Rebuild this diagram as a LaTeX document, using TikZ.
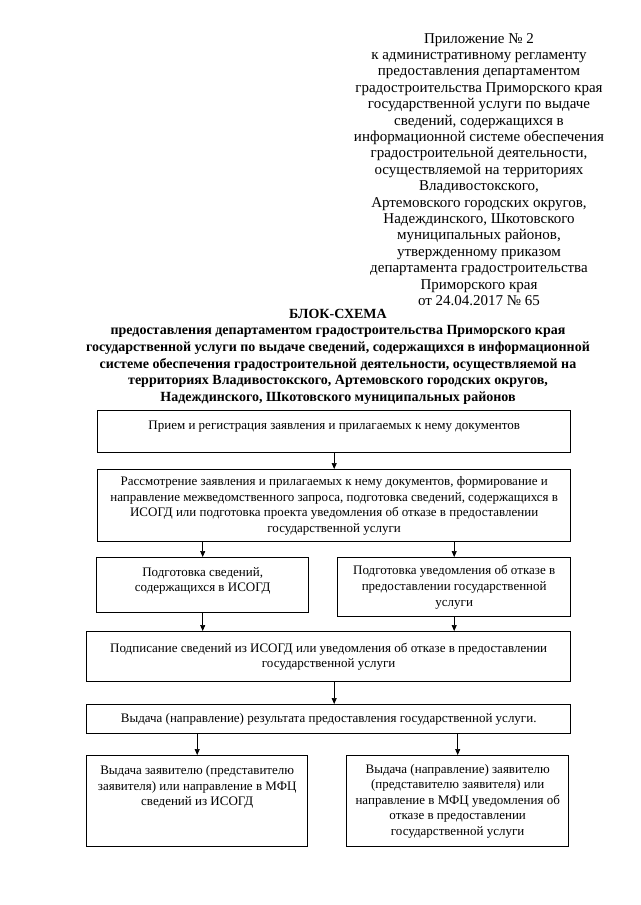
\documentclass[tikz,border=0pt]{standalone}
\usepackage{fontspec}
\setmainfont{Liberation Serif}
\usetikzlibrary{arrows.meta,positioning}
\newcommand{\headfont}{\fontsize{15}{16.4}\selectfont}
\newcommand{\titlefont}{\fontsize{14}{16.7}\selectfont\bfseries}
\newcommand{\blockfont}{\fontsize{13}{15.6}\selectfont}
\begin{document}
\begin{tikzpicture}[x=1pt,y=-1pt,
  txt/.style={align=center,anchor=north,inner sep=0pt},
  box/.style={draw,line width=1.4pt,align=center,font=\blockfont,anchor=north west,inner sep=4pt},
  topbox/.style 2 args={text height=#1,text depth=#2},
  ar/.style={-{Triangle[length=6pt,width=5pt]},line width=0.7pt}]
  \useasboundingbox (0,0) rectangle (640,905);
  \node[txt,font=\headfont] (appx) at (479,33) {Приложение № 2\\
    к административному регламенту\\
    предоставления департаментом\\
    градостроительства Приморского края\\
    государственной услуги по выдаче\\
    сведений, содержащихся в\\
    информационной системе обеспечения\\
    градостроительной деятельности,\\
    осуществляемой на территориях\\
    Владивостокского,\\
    Артемовского городских округов,\\
    Надеждинского, Шкотовского\\
    муниципальных районов,\\
    утвержденному приказом\\
    департамента градостроительства\\
    Приморского края\\
    от 24.04.2017 № 65};
  \node[txt,font=\titlefont] (title) at (338,309) {БЛОК-СХЕМА};
  \node[txt,font=\titlefont] (purpose) at (338,325.5) {предоставления департаментом градостроительства Приморского края\\
    государственной услуги по выдаче сведений, содержащихся в информационной\\
    системе обеспечения градостроительной деятельности, осуществляемой на\\
    территориях Владивостокского, Артемовского городских округов,\\
    Надеждинского, Шкотовского муниципальных районов};
  % steps of the procedure
  \node[box,topbox={15pt}{19pt},minimum width=473,minimum height=42] (b1) at (97,410)
    {Прием и регистрация заявления и прилагаемых к нему документов};
  \node[box,minimum width=473,minimum height=72] (b2) at (97,469)
    {Рассмотрение заявления и прилагаемых к нему документов, формирование и\\
     направление межведомственного запроса, подготовка сведений, содержащихся в\\
     ИСОГД или подготовка проекта уведомления об отказе в предоставлении\\
     государственной услуги};
  \node[box,topbox={30pt}{17pt},minimum width=212,minimum height=55] (b3) at (96,557)
    {Подготовка сведений,\\ содержащихся в ИСОГД};
  \node[box,minimum width=233,minimum height=59] (b4) at (337,557)
    {Подготовка уведомления об отказе в\\ предоставлении государственной\\ услуги};
  \node[box,minimum width=484,minimum height=50] (b5) at (86,631)
    {Подписание сведений из ИСОГД или уведомления об отказе в предоставлении\\
     государственной услуги};
  \node[box,minimum width=484,minimum height=29] (b6) at (86,704)
    {Выдача (направление) результата предоставления государственной услуги.};
  \node[box,topbox={46pt}{37pt},minimum width=221,minimum height=91] (b7) at (86,755)
    {Выдача заявителю (представителю\\ заявителя) или направление в МФЦ\\ сведений из ИСОГД};
  \node[box,minimum width=222,minimum height=91] (b8) at (346,755)
    {Выдача (направление) заявителю\\ (представителю заявителя) или\\ направление в МФЦ уведомления об\\ отказе в предоставлении\\ государственной услуги};
  % connectors
  \draw[ar] (b1) -- (b2);
  \foreach \a/\b in {b2/b3,b2/b4,b6/b7,b6/b8} \draw[ar] (\a.south -| \b) -- (\b);
  \foreach \a/\b in {b3/b5,b4/b5} \draw[ar] (\a) -- (\a |- \b.north);
  \draw[ar] (b5.south -| b1) -- (b6.north -| b1);
\end{tikzpicture}
\end{document}
